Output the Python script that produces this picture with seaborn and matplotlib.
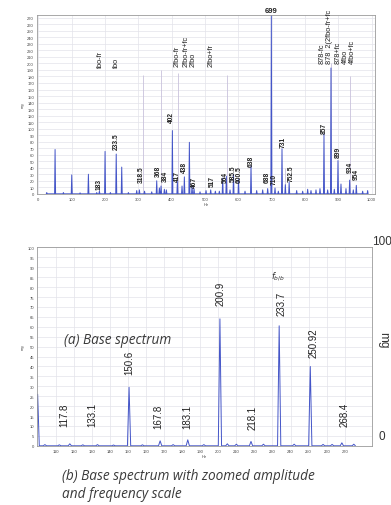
import matplotlib
matplotlib.use('Agg')
import numpy as np
import pandas as pd
import seaborn as sns
from matplotlib import pyplot as plt

# TOP SPECTRUM (0 - 1000 Hz) ###################################################
top_hz = [25, 50, 75, 100, 125, 150, 175, 183, 200, 216, 233.5, 250, 270,
          295, 303, 318.5, 340, 355, 363, 368, 378, 384, 402, 417, 431, 438,
          453, 461, 467, 485, 503, 517, 531, 543, 553, 564, 575, 585.5, 600.5,
          620, 638, 655, 673, 688, 699, 710, 720, 731, 741, 752.5, 775, 793,
          808, 818, 833, 845, 857, 868, 878, 888, 899, 908, 923, 934, 945, 954,
          973, 988]
top_amp = [2, 68, 2, 29, 1.5, 30, 2, 4, 65, 2, 61, 41, 2,
           5, 6, 4, 3, 20, 9, 12, 7, 6, 97, 19, 12, 26,
           79, 12, 8, 3, 5, 6, 4, 4, 24, 27, 6, 30, 22,
           4, 43, 5, 6, 8, 275, 9, 4, 69, 14, 18, 5, 4,
           7, 5, 6, 8, 92, 6, 193, 7, 51, 15, 8, 21, 6, 13,
           4, 5]

marker_hz = [313, 368, 420, 565, 741, 878, 934]
marker_top = [183, 190, 185, 183, 40, 200, 180]

top_num_text = ['183', '233.5', '318.5', '368', '384', '402', '417', '438',
                '467', '517', '564', '585.5', '600.5', '638', '688', '710',
                '731', '752.5', '857', '899', '934', '954']
top_num_x = [183, 235, 308, 360, 380, 399, 418, 438,
             468, 521, 561, 584, 604, 640, 686, 706,
             733, 757, 858, 901, 936, 953]
top_num_y = [8, 69, 18, 28, 19, 110, 20, 34,
             11, 12, 18, 20, 18, 43, 18, 15,
             72, 20, 94, 56, 33, 23]

top_name_text = ['fbo-fr', 'fbo', '2fbo-fr', '2fbo-fr+fc', '2fbo', '2fbo+fr',
                 '878-fc', '878  2(2fbo-fr+fc', '878+fc', '4fbo', '4fbo+fc']
top_name_x = [185, 233, 415, 444, 464, 517, 850, 873, 900, 922, 943]
top_name_y = [194, 194, 196, 196, 196, 196, 200, 200, 200, 200, 200]

# BOTTOM SPECTRUM (zoomed, 100 - 280 Hz) #######################################
bot_hz = [100, 104, 112, 117.8, 125, 133.1, 142, 150.6, 158, 167.8, 175,
          183.1, 192, 200.9, 205, 210, 218.1, 225, 233.7, 242, 250.92, 258,
          263, 268.4, 275]
bot_amp = [26, 0.6, 0.5, 1.0, 0.5, 0.6, 0.4, 29.5, 0.5, 2.5, 0.6,
           3, 0.6, 64, 1.0, 0.8, 2.2, 0.8, 60.5, 0.8, 40, 0.7,
           0.7, 1.5, 0.8]

bot_num_text = ['117.8', '133.1', '150.6', '167.8', '183.1', '200.9', '218.1',
                '233.7', '250.92', '268.4']
bot_num_x = [115, 130.5, 150.6, 166.8, 182.6, 201.3, 219, 235, 252.5, 270]
bot_num_y = [10, 10, 36, 9, 9, 71, 8.5, 66, 45, 10]

BLUE = '#4455c8'
GRID = '#e3e3ea'
SPINE = '#9a9a9a'


def spectrum_frame(hz, amp, half_width):
    # each peak becomes a thin triangle on the baseline
    rows = []
    for f, a in zip(hz, amp):
        rows += [(f - half_width, 0), (f, a), (f + half_width, 0)]
    return pd.DataFrame(rows, columns=['Hz', 'amp'])


sns.set_theme(style='whitegrid')
plt.rcParams['font.family'] = ['Liberation Sans', 'DejaVu Sans']

fig = plt.figure(figsize=(3.91, 5.06), dpi=100)
ax1 = fig.add_axes([0.094, 0.615, 0.865, 0.353])
ax2 = fig.add_axes([0.094, 0.117, 0.857, 0.392])

# top panel
ax1.vlines(marker_hz, 0, marker_top, color='#c9c2dc', lw=0.6, zorder=1)
sns.lineplot(data=spectrum_frame(top_hz, top_amp, 1.5), x='Hz', y='amp',
             estimator=None, sort=False, color=BLUE, lw=0.7, ax=ax1, zorder=2)
ax1.set_xlim(-5, 1010)
ax1.set_ylim(0, 274)
ax1.set_xticks(range(0, 1001, 100))
ax1.set_yticks(range(0, 271, 10))
for t, x, y in zip(top_num_text, top_num_x, top_num_y):
    ax1.text(x, y, t, rotation=90, ha='center', va='bottom', fontsize=4.8,
             fontweight='bold', color='#222222')
for t, x, y in zip(top_name_text, top_name_x, top_name_y):
    ax1.text(x, y, t, rotation=90, ha='center', va='bottom', fontsize=5.3,
             color='#222222', clip_on=False)
ax1.text(699, 281, '699', ha='center', va='center', fontsize=5.5,
         fontweight='bold', color='#222222', clip_on=False)

# bottom panel
sns.lineplot(data=spectrum_frame(bot_hz, bot_amp, 0.9), x='Hz', y='amp',
             estimator=None, sort=False, color=BLUE, lw=0.7, ax=ax2, zorder=2)
ax2.set_xlim(99.5, 285)
ax2.set_ylim(0, 100)
ax2.set_xticks(range(110, 271, 10))
ax2.set_yticks(range(0, 101, 5))
for t, x, y in zip(bot_num_text, bot_num_x, bot_num_y):
    ax2.text(x, y, t, rotation=90, ha='center', va='bottom', fontsize=7,
             color='#222222')
ax2.text(233, 86, r'$f_{b/b}$', ha='center', va='center', fontsize=6,
         color='#333333')

for ax in (ax1, ax2):
    ax.grid(True, color=GRID, lw=0.5)
    ax.tick_params(labelsize=3, length=0, pad=2, colors='#444444')
    ax.set_xlabel('Hz', fontsize=3, labelpad=1, color='#444444')
    ax.set_ylabel('mg', fontsize=3, labelpad=2, color='#444444')
    for s in ax.spines.values():
        s.set_color(SPINE)
        s.set_linewidth(0.6)

# right-hand scale for panel (b)
fig.text(381.7 / 391, 1 - 241.7 / 506, '100', fontsize=8.5, color='#333333',
         ha='center', va='center')
fig.text(383 / 391, 1 - 340 / 506, 'mg', fontsize=8.5, color='#333333',
         ha='center', va='center', rotation=270)
fig.text(382 / 391, 1 - 436.7 / 506, '0', fontsize=8.5, color='#333333',
         ha='center', va='center')

# captions
cap = dict(family=['Open Sans', 'DejaVu Sans'], style='italic', fontsize=9.8,
           color='#3a3a3a')
fig.text(118 / 391, 1 - 340 / 506, '(a) Base spectrum', ha='center',
         va='center', **cap)
fig.text(62 / 391, 1 - 476.7 / 506, '(b) Base spectrum with zoomed amplitude',
         ha='left', va='center', **cap)
fig.text(62 / 391, 1 - 495 / 506, 'and frequency scale', ha='left',
         va='center', **cap)

fig.savefig('out.png', dpi=100, facecolor='white')
